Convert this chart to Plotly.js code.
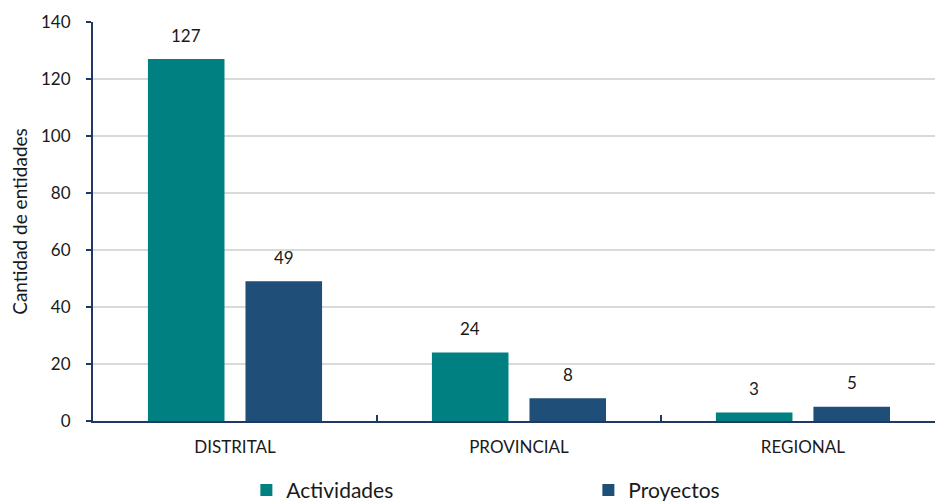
<!DOCTYPE html>
<html><head><meta charset="utf-8">
<script src="https://cdn.plot.ly/plotly-3.0.1.min.js"></script>
<style>html,body{margin:0;padding:0;background:#fff;}#chart{width:935px;height:501px;}</style>
</head><body><div id="chart"></div>
<script>
const categories = ["DISTRITAL", "PROVINCIAL", "REGIONAL"];
const actividades = [127, 24, 3];
const proyectos = [49, 8, 5];
const seriesNames = ["Actividades", "Proyectos"];
const yTicks = [0, 20, 40, 60, 80, 100, 120, 140];

const FONT = "Lato, 'Open Sans', sans-serif";
const teal = "#008080", navy = "#1F4E79", axisCol = "#1F3864";
const bargap = 0.313, bargroupgap = 0.215;
const catPx = 284;
const slot = catPx * (1 - bargap) / 2;

const traces = [
  {type: "bar", name: seriesNames[0], x: categories, y: actividades, marker: {color: teal}},
  {type: "bar", name: seriesNames[1], x: categories, y: proyectos, marker: {color: navy}}
];

const annotations = [];
[actividades, proyectos].forEach((vals, si) => {
  vals.forEach((v, i) => {
    annotations.push({
      x: categories[i], y: v, xref: "x", yref: "y", text: String(v), showarrow: false,
      xshift: (si === 0 ? -1 : 1) * slot / 2, yshift: 24, yanchor: "middle",
      font: {family: FONT, size: 17, color: "#1a1a1a"}
    });
  });
});

const layout = {
  width: 935, height: 501,
  margin: {l: 93, r: 0, t: 22, b: 80, autoexpand: false},
  paper_bgcolor: "#fff", plot_bgcolor: "#fff",
  barmode: "group", bargap: bargap, bargroupgap: bargroupgap,
  font: {family: FONT, size: 17, color: "#1a1a1a"},
  showlegend: true,
  legend: {orientation: "h", xref: "container", x: 0.2635, xanchor: "left",
    yref: "container", y: 0.062, yanchor: "top",
    entrywidth: 297, entrywidthmode: "pixels",
    font: {family: FONT, size: 21, color: "#1a1a1a"}},
  xaxis: {
    range: [-0.5, 2.465], showline: true, linecolor: axisCol, linewidth: 2,
    ticks: "inside", tickson: "boundaries", ticklen: 6, tickwidth: 2, tickcolor: axisCol,
    ticklabelstandoff: 10, showgrid: false, zeroline: false,
    tickfont: {family: FONT, size: 17, color: "#1a1a1a"}
  },
  yaxis: {
    range: [0, 140], tickvals: yTicks, showline: true, linecolor: axisCol, linewidth: 2,
    ticks: "outside", ticklen: 5, tickwidth: 2, tickcolor: axisCol,
    ticklabelstandoff: 12,
    showgrid: true, gridcolor: "#d9d9d9", gridwidth: 1.5, zeroline: false,
    tickfont: {family: FONT, size: 17, color: "#1a1a1a"},
    title: {text: "Cantidad de entidades", standoff: 8, font: {family: FONT, size: 19, color: "#1a1a1a"}}
  },
  annotations: annotations
};

Plotly.newPlot("chart", traces, layout, {displayModeBar: false, staticPlot: true});
</script></body></html>
